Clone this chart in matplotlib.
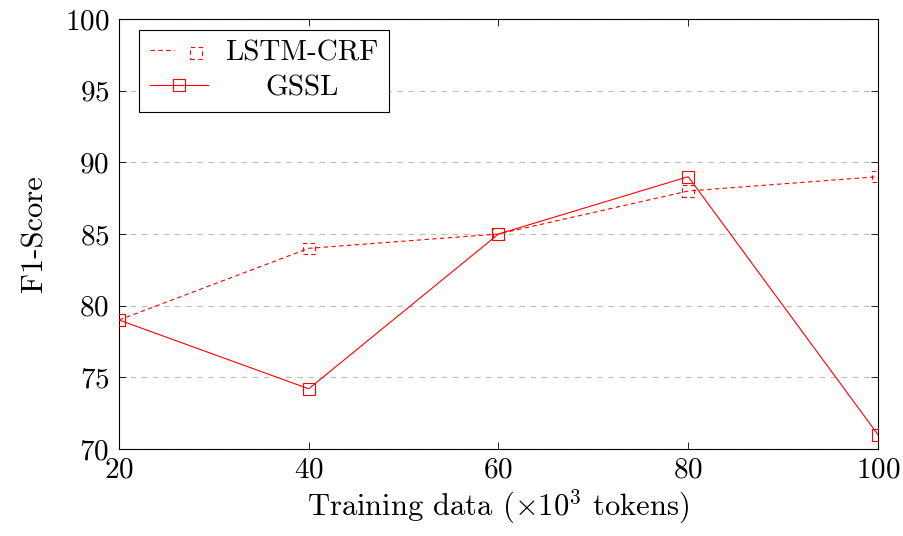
import matplotlib
matplotlib.use("Agg")
import matplotlib.pyplot as plt
from matplotlib.legend_handler import HandlerTuple
from matplotlib.transforms import Affine2D

plt.rcParams['font.family'] = 'serif'
plt.rcParams['font.serif'] = ['cmr10']
plt.rcParams['mathtext.fontset'] = 'cm'
plt.rcParams['axes.formatter.use_mathtext'] = True

x = [20, 40, 60, 80, 100]
lstm_crf = [79, 84, 85, 88, 89]
gssl = [79, 74.2, 85, 89, 71]
yticks = [70, 75, 80, 85, 90, 95, 100]
xticks = [20, 40, 60, 80, 100]

fig = plt.figure(figsize=(9.04, 5.36), dpi=100)
ax = fig.add_axes([119/904, 1-449/536, (878-119)/904, (449-19)/536])

red = '#ff0000'
l1, = ax.plot(x, lstm_crf, color=red, lw=0.8, ls=(0, (4, 3)), zorder=3)
s1 = ax.scatter(x, lstm_crf, marker='s', s=70, facecolors='none', edgecolors=red,
                linewidths=0.8, linestyles=(0, (4, 3)), zorder=4)
l2, = ax.plot(x, gssl, color=red, lw=0.8, marker='s', markersize=8.5,
              markerfacecolor='none', markeredgecolor=red, markeredgewidth=0.8, zorder=3)

ax.set_xlim(20, 100)
ax.set_ylim(70, 100)
ax.set_xticks(xticks)
ax.set_yticks(yticks)
ax.yaxis.grid(True, color='#bbbbbb', ls=(0, (5, 5)), lw=0.8)
ax.set_axisbelow(True)
ax.tick_params(direction='in', top=True, right=True, labelsize=21, length=5, width=0.6)
ax.tick_params(axis='x', pad=6)
ax.tick_params(axis='y', pad=7)
for sp in ax.spines.values():
    sp.set_linewidth(0.8)
ax.set_xlabel(r'Training data ($\times10^3$ tokens)', fontsize=22, labelpad=3)
ax.set_ylabel('F1-Score', fontsize=22, labelpad=12)

leg = ax.legend([(l1, s1), l2], ['LSTM-CRF', 'GSSL'],
                handler_map={tuple: HandlerTuple(ndivide=None)},
                loc='upper left', bbox_to_anchor=(0.027, 0.975), fontsize=21,
                frameon=True, fancybox=False, edgecolor='black', framealpha=1,
                handlelength=2.0, handletextpad=0.6, borderpad=0.35, labelspacing=0.3,
                borderaxespad=0)
leg.get_frame().set_linewidth(0.8)

# center the legend labels within their column
fig.canvas.draw()
r = fig.canvas.get_renderer()
texts = leg.get_texts()
widths = [t.get_window_extent(r).width for t in texts]
wmax = max(widths)
for t, w in zip(texts, widths):
    dx = (wmax - w) / 2
    if dx > 0:
        t.set_transform(t.get_transform() + Affine2D().translate(dx, 0))

fig.savefig('out.png', dpi=100)
